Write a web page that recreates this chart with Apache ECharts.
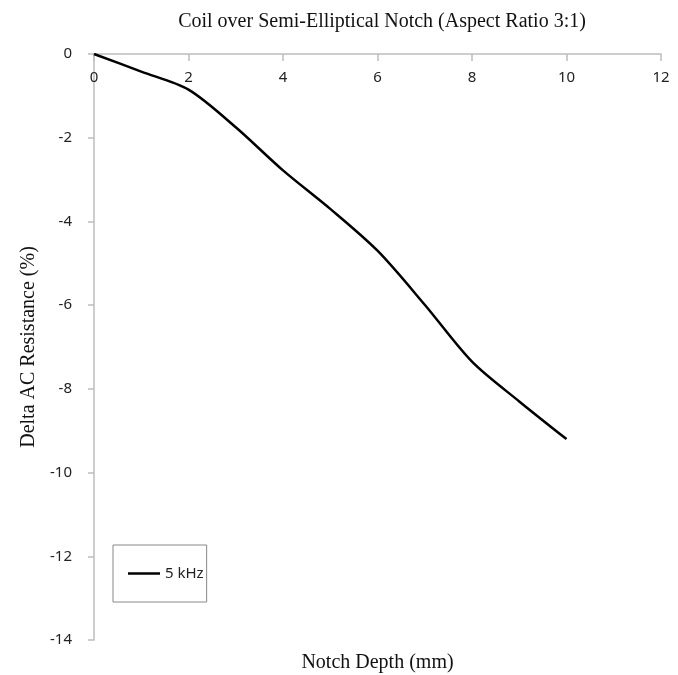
<!DOCTYPE html>
<html>
<head>
<meta charset="utf-8">
<script src="https://cdn.jsdelivr.net/npm/echarts@6/dist/echarts.min.js"></script>
<style>html,body{margin:0;padding:0;background:#fff}#c{width:678px;height:675px}</style>
</head>
<body>
<div id="c"></div>
<script>
var notchDepth = [0, 1, 2, 3, 4, 5, 6, 7, 8, 9, 10];
var deltaRes5kHz = [0, -0.42, -0.85, -1.75, -2.78, -3.7, -4.7, -5.99, -7.35, -8.3, -9.2];
var seriesName = '5 kHz';
var titleText = 'Coil over Semi-Elliptical Notch (Aspect Ratio 3:1)';
var xName = 'Notch Depth (mm)';
var yName = 'Delta AC Resistance (%)';

var data = notchDepth.map(function (x, i) { return [x, deltaRes5kHz[i]]; });
var chart = echarts.init(document.getElementById('c'));
var serif = '"Liberation Serif", "DejaVu Serif", serif';
var sans = '"Noto Sans", "Liberation Sans", sans-serif';
chart.setOption({
  animation: false,
  backgroundColor: '#fff',
  title: {
    text: titleText, left: 377, top: 7, textAlign: 'center',
    textStyle: { fontFamily: serif, fontSize: 20, fontWeight: 'normal', color: '#111' }
  },
  grid: { left: 94, top: 54, right: 17, bottom: 35, containLabel: false, outerBoundsMode: 'none' },
  legend: {
    left: 113, top: 545,
    padding: [21, 3, 21, 15],
    borderColor: '#888', borderWidth: 1,
    icon: 'rect', itemWidth: 32, itemHeight: 2.5, itemGap: 4,
    textStyle: { fontFamily: sans, fontSize: 15, color: '#222' },
    data: [seriesName]
  },
  xAxis: [{
    type: 'value', min: 0, max: 12, interval: 2, position: 'top',
    axisLine: { onZero: false, lineStyle: { color: '#bdbdbd', width: 1.5 } },
    axisTick: { show: true, inside: true, length: 7, lineStyle: { color: '#bdbdbd', width: 1.5 } },
    axisLabel: { inside: true, fontFamily: sans, fontSize: 15, color: '#222', margin: 16 },
    splitLine: { show: false }
  }, {
    type: 'value', min: 0, max: 12, interval: 2, position: 'bottom',
    axisLine: { show: false, onZero: false }, axisTick: { show: false },
    axisLabel: { show: false }, splitLine: { show: false },
    name: xName, nameLocation: 'middle', nameGap: 13,
    nameTextStyle: { fontFamily: serif, fontSize: 20, color: '#111' }
  }],
  yAxis: {
    type: 'value', min: -14, max: 0, interval: 2,
    axisLine: { show: true, onZero: false, lineStyle: { color: '#bdbdbd', width: 1.5 } },
    axisTick: { show: true, length: 6, lineStyle: { color: '#bdbdbd', width: 1.5 } },
    axisLabel: { fontFamily: sans, fontSize: 15, color: '#222', margin: 22 },
    splitLine: { show: false },
    name: yName, nameLocation: 'middle', nameGap: 54, nameRotate: 90,
    nameTextStyle: { fontFamily: serif, fontSize: 20, color: '#111' }
  },
  series: [{
    name: seriesName, type: 'line', data: data, smooth: 0.3, xAxisIndex: 0,
    showSymbol: false, symbol: 'none',
    lineStyle: { color: '#000', width: 2.5 },
    itemStyle: { color: '#000' }
  }]
});
</script>
</body>
</html>
